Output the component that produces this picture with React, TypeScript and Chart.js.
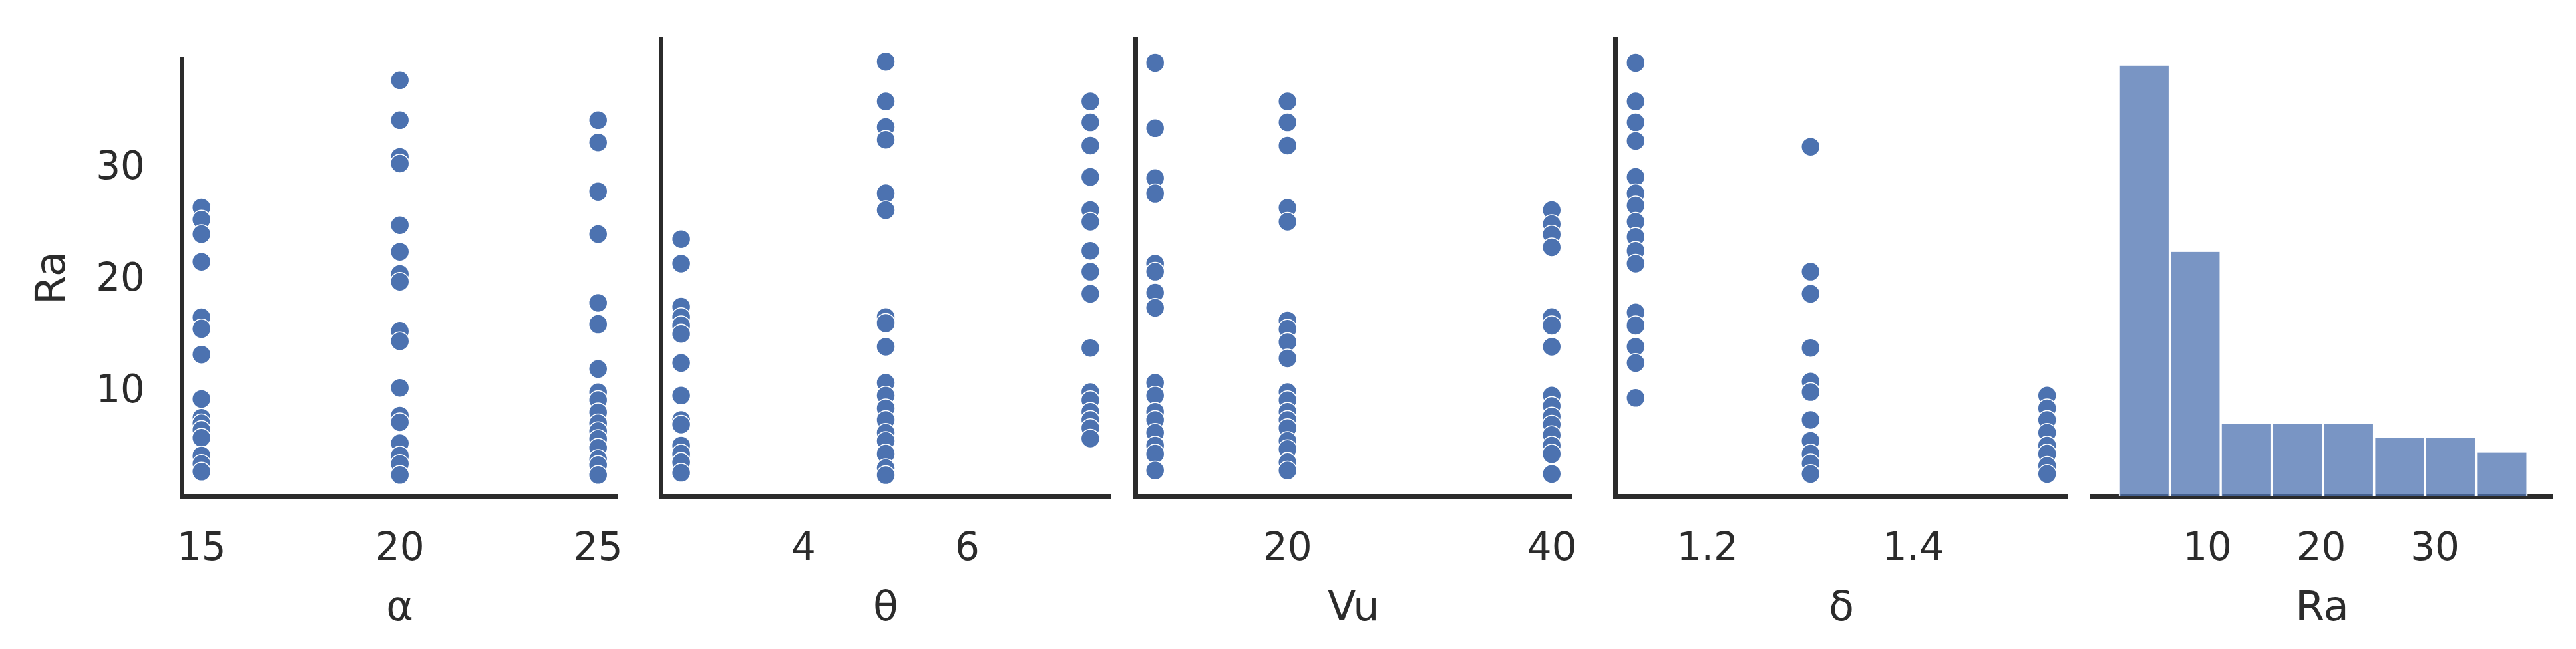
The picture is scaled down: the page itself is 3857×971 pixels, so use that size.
import React, { useEffect, useRef } from 'react';
import { Chart, registerables } from 'chart.js';

Chart.register(...registerables);

// ---------- data ----------
const yTitle = 'Ra';
const yTicks = [10, 20, 30];

const alphaLevels = [15, 20, 25];
const raAlpha15 = [26.6, 25.5, 24.2, 21.7, 16.7, 15.7, 13.4, 9.4, 7.7, 7.2, 6.6, 5.9, 4.3, 3.6, 2.9];
const raAlpha20 = [38.0, 34.4, 31.1, 30.5, 25.0, 22.6, 20.6, 19.9, 15.5, 14.6, 10.4, 7.9, 7.3, 5.4, 4.3, 3.6, 2.6];
const raAlpha25 = [34.4, 32.4, 28.0, 24.2, 18.0, 16.1, 12.1, 10.0, 9.3, 8.2, 7.2, 6.5, 5.8, 5.0, 4.0, 3.5, 2.6];
const alphaTicks = [15, 20, 25];

const thetaLevels = [2.5, 5, 7.5];
const raTheta25 = [22.7, 20.6, 16.9, 16.0, 15.3, 14.6, 12.1, 9.3, 7.2, 6.8, 5.0, 4.3, 3.6, 2.7];
const raTheta5 = [37.9, 34.5, 32.3, 31.2, 26.6, 25.2, 16.0, 15.5, 13.5, 10.4, 9.3, 8.2, 7.2, 6.1, 5.4, 4.3, 3.1, 2.5];
const raTheta75 = [34.5, 32.7, 30.7, 28.0, 25.2, 24.2, 21.7, 19.9, 18.0, 13.4, 9.6, 8.9, 7.9, 7.2, 6.5, 5.6];
const thetaTicks = [4, 6];

const vuLevels = [10, 20, 40];
const raVu10 = [37.8, 32.2, 27.9, 26.6, 20.6, 19.9, 18.1, 16.8, 10.4, 9.3, 7.9, 7.2, 6.1, 5.0, 4.3, 2.9];
const raVu20 = [34.5, 32.7, 30.7, 25.4, 24.2, 15.7, 15.0, 13.9, 12.5, 9.6, 8.9, 7.9, 7.2, 6.5, 5.4, 4.7, 3.6, 2.9];
const raVu40 = [25.2, 24.0, 23.1, 22.0, 16.0, 15.3, 13.5, 9.3, 8.4, 7.5, 6.8, 5.9, 5.0, 4.3, 2.6];
const vuTicks = [20, 40];

const deltaLevels = [1.13, 1.3, 1.53];
const raDelta113 = [37.8, 34.5, 32.7, 31.1, 28.0, 26.6, 25.6, 24.2, 22.9, 21.7, 20.6, 16.4, 15.3, 13.5, 12.1, 9.1];
const raDelta13 = [30.6, 19.9, 18.0, 13.4, 10.5, 9.6, 7.2, 5.4, 4.3, 3.5, 2.6];
const raDelta153 = [9.3, 8.2, 7.2, 6.1, 5.0, 4.3, 3.3, 2.6];
const deltaTicks = [1.2, 1.4];

const histEdges = [2.2, 6.69, 11.18, 15.66, 20.15, 24.64, 29.13, 33.61, 38.1];
const histCounts = [30, 17, 5, 5, 5, 4, 4, 3];
const histTicks = [10, 20, 30];

// ---------- style ----------
const W = 3857;
const H = 971;
const PLOT_TOP = 59;
const PLOT_BOTTOM = 742;
const FONT = "'DejaVu Sans', sans-serif";
const TEXT = '#2b2b2b';
const AXIS = '#2b2b2b';
const POINT = '#4c72b0';
const BAR = 'rgba(76,114,176,0.75)';
const TICK_SIZE = 58;
const TITLE_SIZE = 62;
const LINE_W = 7;
const Y_MIN = 0.7;
const Y_MAX = 39.8;

type Panel = {
  title: string;
  levels: number[];
  groups: number[][];
  ticks: number[];
  min: number;
  max: number;
  left: number;
  right: number;
  first: boolean;
};

const panels: Panel[] = [
  { title: 'α', levels: alphaLevels, groups: [raAlpha15, raAlpha20, raAlpha25], ticks: alphaTicks, min: 14.5, max: 25.5, left: 272, right: 950, first: true },
  { title: 'θ', levels: thetaLevels, groups: [raTheta25, raTheta5, raTheta75], ticks: thetaTicks, min: 2.25, max: 7.75, left: 989, right: 1663, first: false },
  { title: 'Vu', levels: vuLevels, groups: [raVu10, raVu20, raVu40], ticks: vuTicks, min: 8.5, max: 41.5, left: 1700, right: 2378, first: false },
  { title: 'δ', levels: deltaLevels, groups: [raDelta113, raDelta13, raDelta153], ticks: deltaTicks, min: 1.11, max: 1.55, left: 2418, right: 3096, first: false },
];

const HIST = { left: 3133, right: 3821, min: -0.09, max: 40.26, countMax: 31.8 };
const RIGHT_PAD = 30;
const X_AXIS_H = H - PLOT_BOTTOM;

function fixTicks(values: number[]) {
  return (s: any) => {
    s.ticks = values.map((v) => ({ value: v }));
  };
}

function xScale(title: string, min: number, max: number, ticks: number[]) {
  return {
    type: 'linear',
    position: 'bottom',
    min,
    max,
    offset: false,
    afterBuildTicks: fixTicks(ticks),
    afterFit: (s: any) => {
      s.height = X_AXIS_H;
    },
    grid: { display: false, drawTicks: false },
    border: { display: true, color: AXIS, width: LINE_W },
    ticks: {
      autoSkip: false,
      maxRotation: 0,
      minRotation: 0,
      padding: 46,
      color: TEXT,
      font: { family: FONT, size: TICK_SIZE, lineHeight: 1.2 },
      callback: (v: any) => String(v),
    },
    title: {
      display: true,
      text: title,
      color: TEXT,
      font: { family: FONT, size: TITLE_SIZE, lineHeight: 1.2 },
      padding: { top: 0, bottom: 22 },
    },
  };
}

function scatterConfig(p: Panel, yW: number, canvasW: number) {
  const data: { x: number; y: number }[] = [];
  p.groups.forEach((g, i) => g.forEach((v) => data.push({ x: p.levels[i], y: v })));
  return {
    type: 'scatter',
    data: {
      datasets: [
        {
          data,
          pointRadius: 14,
          pointHoverRadius: 14,
          pointBackgroundColor: POINT,
          pointBorderColor: '#ffffff',
          pointBorderWidth: 1.5,
        },
      ],
    },
    options: {
      animation: false,
      responsive: false,
      devicePixelRatio: 1,
      events: [],
      layout: { padding: { top: PLOT_TOP, right: canvasW - (p.right - (p.left - yW)), bottom: 0, left: 0 } },
      plugins: { legend: { display: false }, tooltip: { enabled: false } },
      scales: {
        x: xScale(p.title, p.min, p.max, p.ticks),
        y: {
          type: 'linear',
          position: 'left',
          min: Y_MIN,
          max: Y_MAX,
          afterBuildTicks: fixTicks(yTicks),
          afterFit: (s: any) => {
            s.width = yW;
          },
          grid: { display: false, drawTicks: false },
          border: { display: true, color: AXIS, width: LINE_W },
          ticks: {
            display: p.first,
            padding: 55,
            color: TEXT,
            font: { family: FONT, size: TICK_SIZE, lineHeight: 1.2 },
            callback: (v: any) => String(v),
          },
          title: {
            display: p.first,
            text: yTitle,
            color: TEXT,
            font: { family: FONT, size: TITLE_SIZE, lineHeight: 1.2 },
            padding: { top: 44, bottom: 0 },
          },
        },
      },
    },
  };
}

function histConfig(padLeft: number, padRight: number) {
  const data = histCounts.map((c, i) => ({ x: (histEdges[i] + histEdges[i + 1]) / 2, y: c }));
  return {
    type: 'bar',
    data: {
      datasets: [
        {
          data,
          backgroundColor: BAR,
          borderColor: '#ffffff',
          borderWidth: { left: 2, right: 2, top: 0, bottom: 0 },
          borderSkipped: 'bottom',
          categoryPercentage: 1,
          barPercentage: 1,
        },
      ],
    },
    options: {
      animation: false,
      responsive: false,
      devicePixelRatio: 1,
      events: [],
      layout: { padding: { top: PLOT_TOP, right: padRight, bottom: 0, left: padLeft } },
      plugins: { legend: { display: false }, tooltip: { enabled: false } },
      scales: {
        x: xScale(yTitle, HIST.min, HIST.max, histTicks),
        y: { type: 'linear', display: false, min: 0, max: HIST.countMax },
      },
    },
  };
}

function ChartCanvas({ left, width, config }: { left: number; width: number; config: any }) {
  const ref = useRef<HTMLCanvasElement | null>(null);
  useEffect(() => {
    if (!ref.current) return;
    const chart = new Chart(ref.current, config);
    return () => chart.destroy();
  }, []);
  return (
    <canvas
      ref={ref}
      width={width}
      height={H}
      style={{ position: 'absolute', left, top: 0, width, height: H }}
    />
  );
}

export default function App() {
  const items = panels.map((p) => {
    const yW = p.first ? p.left : 20;
    const cLeft = p.left - yW;
    const cW = p.right - cLeft + RIGHT_PAD;
    return { key: p.title, left: cLeft, width: cW, config: scatterConfig(p, yW, cW) };
  });
  const hLeft = 3100;
  const hW = W - hLeft;
  items.push({
    key: 'hist',
    left: hLeft,
    width: hW,
    config: histConfig(HIST.left - hLeft, W - HIST.right),
  });
  return (
    <div style={{ position: 'absolute', left: 0, top: 0, width: W, height: H, background: '#ffffff', overflow: 'hidden' }}>
      {items.map((it) => (
        <ChartCanvas key={it.key} left={it.left} width={it.width} config={it.config} />
      ))}
    </div>
  );
}
